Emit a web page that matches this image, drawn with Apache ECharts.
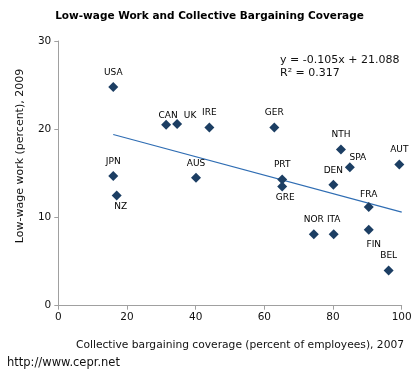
<!DOCTYPE html>
<html><head><meta charset="utf-8">
<script src="https://cdn.jsdelivr.net/npm/echarts@6/dist/echarts.min.js"></script>
<style>html,body{margin:0;padding:0;background:#fff}#c{width:419px;height:384px}</style>
</head><body><div id="c"></div>
<script>
var countries = ['USA','CAN','UK','IRE','JPN','NZ','AUS','GER','NTH','SPA','AUT','PRT','GRE','DEN','FRA','NOR','ITA','FIN','BEL'];
var coverage = [16.0,31.4,34.6,44.0,16.0,17.0,40.1,62.9,82.3,84.9,99.3,65.2,65.2,80.1,90.4,74.4,80.2,90.4,96.2];
var lowWage = [24.8,20.5,20.6,20.2,14.7,12.5,14.5,20.2,17.7,15.7,16.0,14.3,13.5,13.7,11.2,8.1,8.1,8.6,4.0];
var trendX = [16, 100];
var trendY = [19.4, 10.6];
var xTicks = [0,20,40,60,80,100];
var yTicks = [0,10,20,30];

var labelStyle = {
  UK:{position:'top',offset:[13,6]},
  CAN:{position:'top',offset:[2,5]},
  NZ:{position:'bottom',offset:[4,-3]},
  SPA:{position:'top',offset:[8,5]},
  GRE:{position:'bottom',offset:[3,-3]},
  FRA:{position:'top',offset:[0,2]},
  FIN:{position:'bottom',offset:[5,0]}
};
var FONT = 'DejaVu Sans';
var pts = countries.map(function(n,i){
  var ls = labelStyle[n] || {position:'top',offset:[0,0]};
  return {name:n, value:[coverage[i], lowWage[i]], label:{position:ls.position, offset:ls.offset}};
});
var chart = echarts.init(document.getElementById('c'));
chart.setOption({
  animation:false,
  backgroundColor:'#fff',
  title:{text:'Low-wage Work and Collective Bargaining Coverage',left:'center',top:6,
    textStyle:{fontFamily:FONT,fontSize:10.5,fontWeight:'bold',color:'#000'}},
  grid:{left:58.3,right:17.3,top:41,bottom:78.3},
  xAxis:{type:'value',min:0,max:100,interval:20,
    axisLine:{lineStyle:{color:'#a0a0a0'}},axisTick:{show:true,length:4,lineStyle:{color:'#a0a0a0'}},
    splitLine:{show:false},
    axisLabel:{fontFamily:FONT,fontSize:10.5,color:'#111',margin:6,
      formatter:function(v){return xTicks.indexOf(v)>=0?String(v):'';}}},
  yAxis:{type:'value',min:0,max:30,interval:10,
    axisLine:{show:true,lineStyle:{color:'#a0a0a0'}},axisTick:{show:true,length:4,lineStyle:{color:'#a0a0a0'}},
    splitLine:{show:false},
    axisLabel:{fontFamily:FONT,fontSize:10.5,color:'#111',margin:7,
      formatter:function(v){return yTicks.indexOf(v)>=0?String(v):'';}}},
  series:[
    {type:'line',data:trendX.map(function(x,i){return [x,trendY[i]];}),symbol:'none',
      lineStyle:{color:'#2f6db3',width:1.2},silent:true,z:1},
    {type:'scatter',data:pts,symbol:'diamond',symbolSize:10,
      itemStyle:{color:'#1c3e63',opacity:1},z:3,
      label:{show:true,formatter:'{b}',fontFamily:FONT,fontSize:9,color:'#000',distance:5}}
  ],
  graphic:[
    {type:'text',x:20,y:156,rotation:Math.PI/2,style:{text:'Low-wage work (percent), 2009',fontFamily:FONT,fontSize:11,fill:'#111',textAlign:'center',textVerticalAlign:'middle'}},
    {type:'text',x:240,y:345,style:{text:'Collective bargaining coverage (percent of employees), 2007',fontFamily:FONT,fontSize:10.7,fill:'#111',textAlign:'center',textVerticalAlign:'middle'}},
    {type:'text',x:7,y:363,style:{text:'http://www.cepr.net',fontFamily:FONT,fontSize:11.5,fill:'#111',textAlign:'left',textVerticalAlign:'middle'}},
    {type:'text',x:280,y:60,style:{text:'y = -0.105x + 21.088',fontFamily:FONT,fontSize:11,fill:'#111',textAlign:'left',textVerticalAlign:'middle'}},
    {type:'text',x:280,y:73,style:{text:'R² = 0.317',fontFamily:FONT,fontSize:11,fill:'#111',textAlign:'left',textVerticalAlign:'middle'}}
  ]
});
</script></body></html>
